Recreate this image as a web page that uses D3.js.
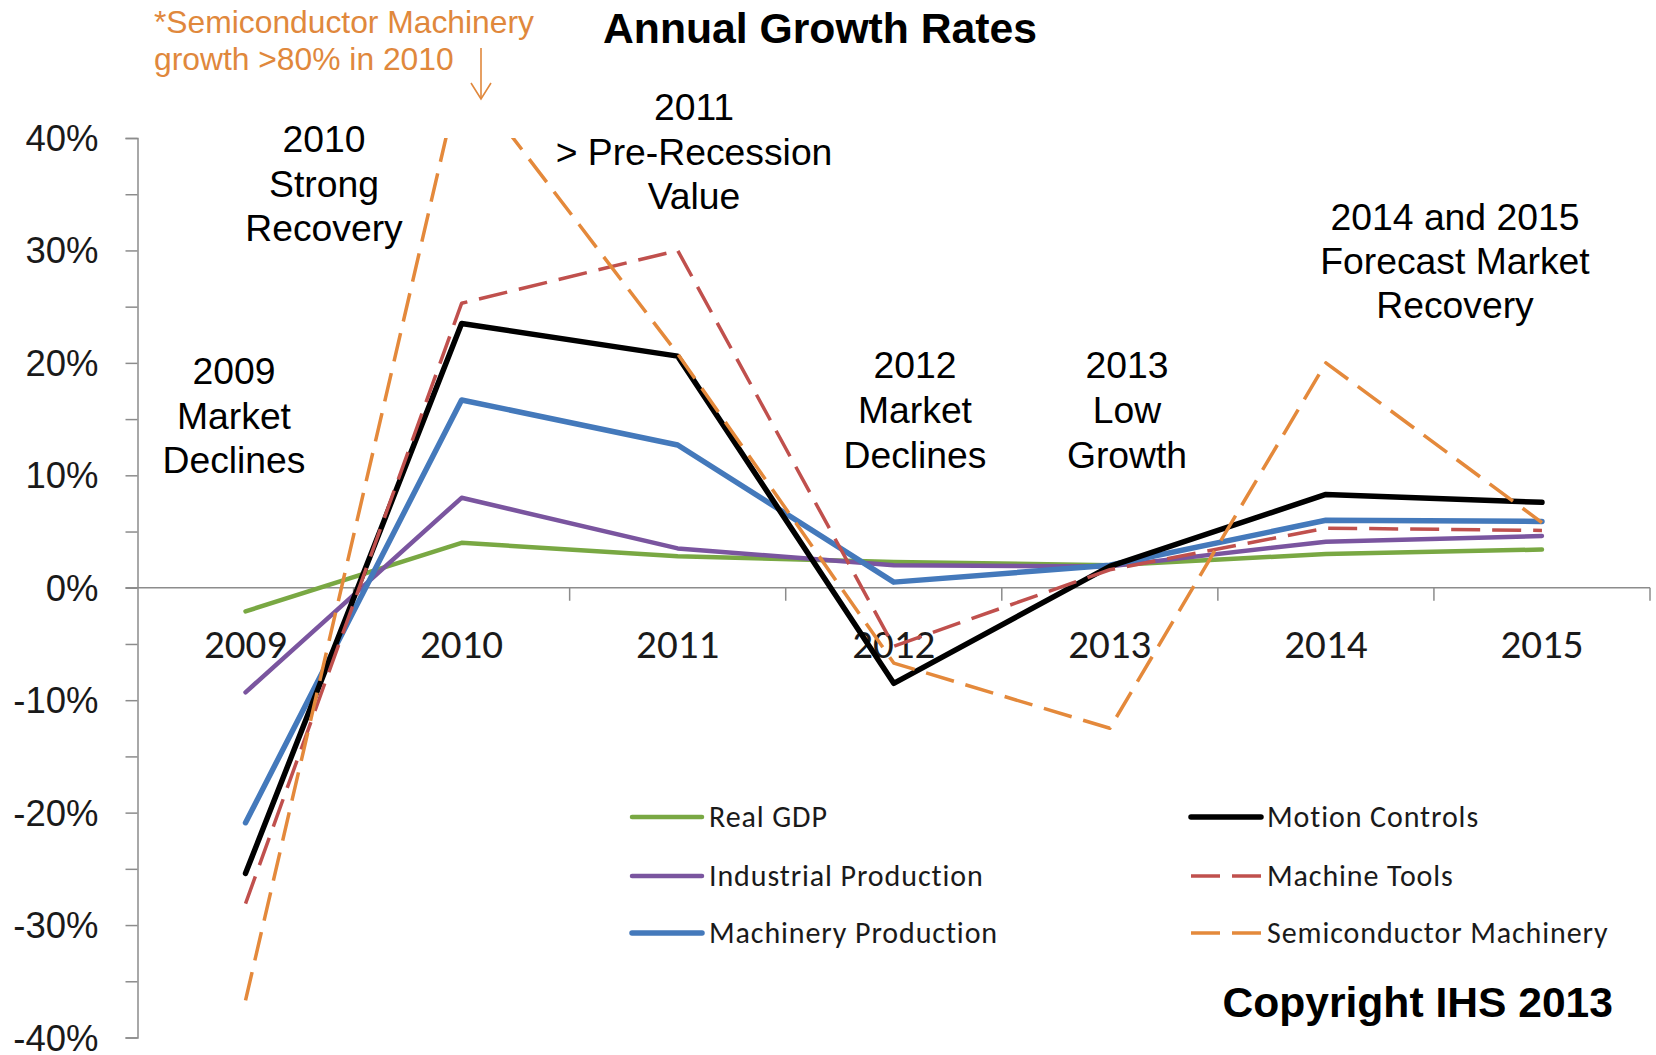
<!DOCTYPE html>
<html>
<head>
<meta charset="utf-8">
<script src="https://cdn.jsdelivr.net/npm/d3@7"></script>
<style>
  html, body { margin: 0; padding: 0; background: #fff; }
  svg { display: block; }
</style>
</head>
<body>
<svg id="chart" width="1656" height="1055"></svg>
<script>
// ---- Data (values in %) ----
const years = ["2009", "2010", "2011", "2012", "2013", "2014", "2015"];
const realGDP = [-2.1, 4.0, 2.8, 2.3, 2.0, 3.0, 3.4];
const industrialProduction = [-9.3, 8.0, 3.5, 2.0, 1.9, 4.1, 4.6];
const machineryProduction = [-20.9, 16.7, 12.7, 0.5, 2.0, 6.0, 5.9];
const motionControls = [-25.4, 23.5, 20.6, -8.5, 1.9, 8.3, 7.6];
const machineTools = [-28.1, 25.3, 30.0, -5.2, 1.6, 5.3, 5.1];
const semiconductorMachinery = [-36.7, 46.0, 20.8, -6.7, -12.5, 20.0, 5.8];
const yTicks = [-40, -35, -30, -25, -20, -15, -10, -5, 0, 5, 10, 15, 20, 25, 30, 35, 40];

const seriesNames = ["Real GDP", "Industrial Production", "Machinery Production",
                     "Motion Controls", "Machine Tools", "Semiconductor Machinery"];
const seriesValues = [realGDP, industrialProduction, machineryProduction,
                      motionControls, machineTools, semiconductorMachinery];
const seriesColors = ["#79A843", "#7A559F", "#4479BB", "#000000", "#C0504D", "#E4893B"];
const seriesWidths = [4.5, 4.5, 5.5, 5.5, 3.5, 3.5];
const seriesDash = [null, null, null, null, "29,12", "29,12"];

// ---- Layout ----
const svg = d3.select("#chart");
const plotLeft = 137.5, plotRight = 1650, plotTop = 138, plotBottom = 1037.5;

const x = d3.scaleBand().domain(years).range([plotLeft, plotRight]).padding(0);
const y = d3.scaleLinear().domain([-40, 40]).range([plotBottom, plotTop]);
const cx = d => x(d) + x.bandwidth() / 2;

const axisColor = "#8C8C8C";
const calibri = "Carlito, Lato, 'Open Sans', sans-serif";
const arial = "'Liberation Sans', Arial, sans-serif";

// ---- Y axis ----
const yAxis = d3.axisLeft(y)
  .tickValues(yTicks)
  .tickSize(12)
  .tickPadding(27)
  .tickFormat(d => (d % 10 === 0 ? d + "%" : ""));
const gy = svg.append("g").attr("transform", `translate(${plotLeft},0)`).call(yAxis);
gy.select(".domain").attr("stroke", axisColor).attr("stroke-width", 1.5);
gy.selectAll(".tick line").attr("stroke", axisColor).attr("stroke-width", 1.5);
gy.selectAll(".tick text")
  .attr("font-family", arial).attr("font-size", 36.5).attr("fill", "#1a1a1a")
  .attr("dy", null)
  .attr("y", 12.5);

// ---- X axis (zero line, ticks between categories) ----
const gx = svg.append("g").attr("transform", `translate(0,${y(0)})`);
gx.append("line")
  .attr("x1", plotLeft - 12).attr("x2", plotRight)
  .attr("stroke", axisColor).attr("stroke-width", 1.5);
const boundaries = years.slice(1).map(d => x(d)).concat([plotRight]);
gx.selectAll("line.xt").data(boundaries).enter().append("line")
  .attr("class", "xt")
  .attr("x1", d => d).attr("x2", d => d)
  .attr("y1", 0).attr("y2", 13)
  .attr("stroke", axisColor).attr("stroke-width", 1.5);
gx.selectAll("text.xl").data(years).enter().append("text")
  .attr("class", "xl")
  .attr("x", d => cx(d)).attr("y", 70)
  .attr("text-anchor", "middle")
  .attr("font-family", calibri).attr("font-size", 41).attr("fill", "#1a1a1a")
  .text(d => d);

// ---- Lines ----
svg.append("clipPath").attr("id", "plotclip")
  .append("rect").attr("x", plotLeft).attr("y", plotTop)
  .attr("width", 1656 - plotLeft).attr("height", plotBottom - plotTop + 10);

const line = d3.line().x((d, i) => cx(years[i])).y(d => y(d));
const gl = svg.append("g").attr("clip-path", "url(#plotclip)");
seriesValues.forEach((vals, k) => {
  gl.append("path")
    .datum(vals)
    .attr("d", line)
    .attr("fill", "none")
    .attr("stroke", seriesColors[k])
    .attr("stroke-width", seriesWidths[k])
    .attr("stroke-linejoin", "round")
    .attr("stroke-linecap", seriesDash[k] ? "butt" : "round")
    .attr("stroke-dasharray", seriesDash[k]);
});

// ---- Legend ----
const legendCols = [{ x1: 632, x2: 702, tx: 709 }, { x1: 1191, x2: 1261, tx: 1267 }];
const legendRows = [817, 876, 933];
seriesNames.forEach((name, k) => {
  const col = legendCols[Math.floor(k / 3)];
  const ry = legendRows[k % 3];
  svg.append("line")
    .attr("x1", col.x1).attr("x2", col.x2).attr("y1", ry).attr("y2", ry)
    .attr("stroke", seriesColors[k])
    .attr("stroke-width", seriesWidths[k])
    .attr("stroke-linecap", seriesDash[k] ? "butt" : "round")
    .attr("stroke-dasharray", seriesDash[k]);
  svg.append("text")
    .attr("x", col.tx).attr("y", ry + 10)
    .attr("font-family", calibri).attr("font-size", 30).attr("letter-spacing", 0.9)
    .attr("fill", "#1a1a1a")
    .text(name);
});

// ---- Title & annotations ----
svg.append("text")
  .attr("x", 820).attr("y", 43).attr("text-anchor", "middle")
  .attr("font-family", arial).attr("font-weight", "bold").attr("font-size", 42.7)
  .attr("fill", "#000").text("Annual Growth Rates");

svg.append("text")
  .attr("x", 1613).attr("y", 1017).attr("text-anchor", "end")
  .attr("font-family", arial).attr("font-weight", "bold").attr("font-size", 42.6)
  .attr("fill", "#000").text("Copyright IHS 2013");

const notes = [
  { x: 324, ys: [152, 197, 241], lines: ["2010", "Strong", "Recovery"] },
  { x: 234, ys: [384, 429, 473], lines: ["2009", "Market", "Declines"] },
  { x: 694, ys: [120, 165, 209], lines: ["2011", "> Pre-Recession", "Value"] },
  { x: 915, ys: [378, 423, 468], lines: ["2012", "Market", "Declines"] },
  { x: 1127, ys: [378, 423, 468], lines: ["2013", "Low", "Growth"] },
  { x: 1455, ys: [230, 274, 318], lines: ["2014 and 2015", "Forecast Market", "Recovery"] }
];
notes.forEach(n => {
  n.lines.forEach((t, i) => {
    svg.append("text")
      .attr("x", n.x).attr("y", n.ys[i]).attr("text-anchor", "middle")
      .attr("font-family", arial).attr("font-size", 37.3).attr("fill", "#000")
      .text(t);
  });
});

const orange = "#E0883C";
svg.append("text").attr("x", 154).attr("y", 33)
  .attr("font-family", arial).attr("font-size", 31.8).attr("fill", orange)
  .text("*Semiconductor Machinery");
svg.append("text").attr("x", 154).attr("y", 70)
  .attr("font-family", arial).attr("font-size", 31.8).attr("fill", orange)
  .text("growth >80% in 2010");
svg.append("line").attr("x1", 481).attr("x2", 481).attr("y1", 48).attr("y2", 99)
  .attr("stroke", orange).attr("stroke-width", 1.6);
svg.append("path").attr("d", "M471,83 L481,99 L491,83")
  .attr("fill", "none").attr("stroke", orange).attr("stroke-width", 1.6);
</script>
</body>
</html>
